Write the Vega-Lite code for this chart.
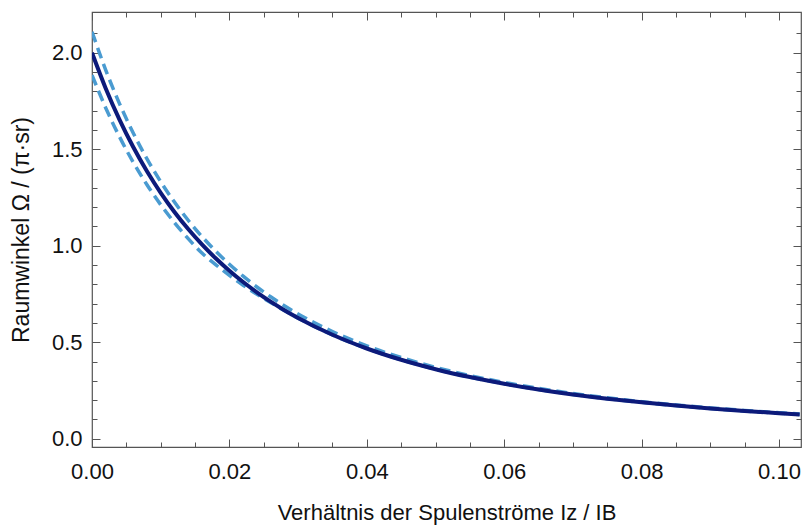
{
  "$schema": "https://vega.github.io/schema/vega-lite/v6.json",
  "width": 709,
  "height": 435,
  "autosize": {"type": "none"},
  "padding": {"left": 92, "top": 12, "right": 1, "bottom": 81},
  "background": "white",
  "config": {
    "view": {"stroke": "#555555", "strokeWidth": 1.2},
    "axis": {
      "domain": false,
      "grid": false,
      "tickColor": "#555555",
      "tickWidth": 1,
      "labelFont": "Liberation Sans",
      "labelFontSize": 22,
      "labelColor": "#111111",
      "titleFont": "Liberation Sans",
      "titleFontSize": 22,
      "titleFontWeight": "normal",
      "titleColor": "#111111",
      "labelFlush": false,
      "labelOverlap": false
    }
  },
  "datasets": {
    "kurven": [
      {"x": 0, "omega": 2.0, "kurve": "mittel"},
      {"x": 0.002, "omega": 1.8151, "kurve": "mittel"},
      {"x": 0.004, "omega": 1.6534, "kurve": "mittel"},
      {"x": 0.006, "omega": 1.5112, "kurve": "mittel"},
      {"x": 0.008, "omega": 1.3855, "kurve": "mittel"},
      {"x": 0.010, "omega": 1.2741, "kurve": "mittel"},
      {"x": 0.012, "omega": 1.1749, "kurve": "mittel"},
      {"x": 0.014, "omega": 1.0862, "kurve": "mittel"},
      {"x": 0.016, "omega": 1.0066, "kurve": "mittel"},
      {"x": 0.018, "omega": 0.9349, "kurve": "mittel"},
      {"x": 0.020, "omega": 0.8703, "kurve": "mittel"},
      {"x": 0.022, "omega": 0.8117, "kurve": "mittel"},
      {"x": 0.024, "omega": 0.7585, "kurve": "mittel"},
      {"x": 0.026, "omega": 0.7101, "kurve": "mittel"},
      {"x": 0.028, "omega": 0.6659, "kurve": "mittel"},
      {"x": 0.030, "omega": 0.6255, "kurve": "mittel"},
      {"x": 0.035, "omega": 0.5384, "kurve": "mittel"},
      {"x": 0.040, "omega": 0.4674, "kurve": "mittel"},
      {"x": 0.045, "omega": 0.4089, "kurve": "mittel"},
      {"x": 0.050, "omega": 0.3602, "kurve": "mittel"},
      {"x": 0.055, "omega": 0.3193, "kurve": "mittel"},
      {"x": 0.060, "omega": 0.2846, "kurve": "mittel"},
      {"x": 0.065, "omega": 0.2549, "kurve": "mittel"},
      {"x": 0.070, "omega": 0.2295, "kurve": "mittel"},
      {"x": 0.075, "omega": 0.2075, "kurve": "mittel"},
      {"x": 0.080, "omega": 0.1883, "kurve": "mittel"},
      {"x": 0.085, "omega": 0.1715, "kurve": "mittel"},
      {"x": 0.090, "omega": 0.1568, "kurve": "mittel"},
      {"x": 0.095, "omega": 0.1437, "kurve": "mittel"},
      {"x": 0.100, "omega": 0.1322, "kurve": "mittel"},
      {"x": 0.103, "omega": 0.1258, "kurve": "mittel"},
      {"x": 0, "omega": 2.1088, "kurve": "oben"},
      {"x": 0.002, "omega": 1.9100, "kurve": "oben"},
      {"x": 0.004, "omega": 1.7365, "kurve": "oben"},
      {"x": 0.006, "omega": 1.5844, "kurve": "oben"},
      {"x": 0.008, "omega": 1.4503, "kurve": "oben"},
      {"x": 0.010, "omega": 1.3316, "kurve": "oben"},
      {"x": 0.012, "omega": 1.2261, "kurve": "oben"},
      {"x": 0.014, "omega": 1.1319, "kurve": "oben"},
      {"x": 0.016, "omega": 1.0477, "kurve": "oben"},
      {"x": 0.018, "omega": 0.9720, "kurve": "oben"},
      {"x": 0.020, "omega": 0.9037, "kurve": "oben"},
      {"x": 0.022, "omega": 0.8420, "kurve": "oben"},
      {"x": 0.024, "omega": 0.7861, "kurve": "oben"},
      {"x": 0.026, "omega": 0.7352, "kurve": "oben"},
      {"x": 0.028, "omega": 0.6889, "kurve": "oben"},
      {"x": 0.030, "omega": 0.6465, "kurve": "oben"},
      {"x": 0.035, "omega": 0.5554, "kurve": "oben"},
      {"x": 0.040, "omega": 0.4813, "kurve": "oben"},
      {"x": 0.045, "omega": 0.4204, "kurve": "oben"},
      {"x": 0.050, "omega": 0.3698, "kurve": "oben"},
      {"x": 0.055, "omega": 0.3274, "kurve": "oben"},
      {"x": 0.060, "omega": 0.2915, "kurve": "oben"},
      {"x": 0.065, "omega": 0.2608, "kurve": "oben"},
      {"x": 0.070, "omega": 0.2346, "kurve": "oben"},
      {"x": 0.075, "omega": 0.2119, "kurve": "oben"},
      {"x": 0.080, "omega": 0.1921, "kurve": "oben"},
      {"x": 0.085, "omega": 0.1749, "kurve": "oben"},
      {"x": 0.090, "omega": 0.1597, "kurve": "oben"},
      {"x": 0.095, "omega": 0.1464, "kurve": "oben"},
      {"x": 0.100, "omega": 0.1345, "kurve": "oben"},
      {"x": 0.103, "omega": 0.1280, "kurve": "oben"},
      {"x": 0, "omega": 1.8843, "kurve": "unten"},
      {"x": 0.002, "omega": 1.7140, "kurve": "unten"},
      {"x": 0.004, "omega": 1.5645, "kurve": "unten"},
      {"x": 0.006, "omega": 1.4327, "kurve": "unten"},
      {"x": 0.008, "omega": 1.3160, "kurve": "unten"},
      {"x": 0.010, "omega": 1.2123, "kurve": "unten"},
      {"x": 0.012, "omega": 1.1196, "kurve": "unten"},
      {"x": 0.014, "omega": 1.0366, "kurve": "unten"},
      {"x": 0.016, "omega": 0.9620, "kurve": "unten"},
      {"x": 0.018, "omega": 0.9018, "kurve": "unten"},
      {"x": 0.020, "omega": 0.8462, "kurve": "unten"},
      {"x": 0.022, "omega": 0.7952, "kurve": "unten"},
      {"x": 0.024, "omega": 0.7485, "kurve": "unten"},
      {"x": 0.026, "omega": 0.7055, "kurve": "unten"},
      {"x": 0.028, "omega": 0.6639, "kurve": "unten"},
      {"x": 0.030, "omega": 0.6250, "kurve": "unten"},
      {"x": 0.035, "omega": 0.5380, "kurve": "unten"},
      {"x": 0.040, "omega": 0.4672, "kurve": "unten"},
      {"x": 0.045, "omega": 0.4088, "kurve": "unten"},
      {"x": 0.050, "omega": 0.3602, "kurve": "unten"},
      {"x": 0.055, "omega": 0.3193, "kurve": "unten"},
      {"x": 0.060, "omega": 0.2846, "kurve": "unten"},
      {"x": 0.065, "omega": 0.2549, "kurve": "unten"},
      {"x": 0.070, "omega": 0.2295, "kurve": "unten"},
      {"x": 0.075, "omega": 0.2075, "kurve": "unten"},
      {"x": 0.080, "omega": 0.1883, "kurve": "unten"},
      {"x": 0.085, "omega": 0.1715, "kurve": "unten"},
      {"x": 0.090, "omega": 0.1568, "kurve": "unten"},
      {"x": 0.095, "omega": 0.1437, "kurve": "unten"},
      {"x": 0.100, "omega": 0.1322, "kurve": "unten"},
      {"x": 0.103, "omega": 0.1258, "kurve": "unten"}
    ]
  },
  "data": {"name": "kurven"},
  "resolve": {"axis": {"x": "independent", "y": "independent"}},
  "layer": [
    {
      "transform": [{"filter": "datum.kurve !== 'mittel'"}],
      "mark": {"type": "line", "interpolate": "monotone", "clip": true, "color": "#4a9bd1", "strokeWidth": 3.5, "strokeDash": [11, 6]},
      "encoding": {
        "x": {"field": "x", "type": "quantitative",
              "scale": {"domain": [0, 0.1032], "nice": false, "zero": false},
              "axis": {"orient": "bottom", "values": [0, 0.02, 0.04, 0.06, 0.08, 0.1], "format": ".2f", "tickSize": -8, "labelPadding": 22,
                       "title": "Verhältnis der Spulenströme Iz / IB", "titlePadding": 20}},
        "y": {"field": "omega", "type": "quantitative",
              "scale": {"domain": [-0.043, 2.211], "nice": false, "zero": false},
              "axis": {"orient": "left", "values": [0, 0.5, 1, 1.5, 2], "format": ".1f", "tickSize": -8, "labelPadding": 18,
                       "title": "Raumwinkel  Ω / (π·sr)", "titleFontSize": 23, "titlePadding": 18}},
        "detail": {"field": "kurve"}
      }
    },
    {
      "transform": [{"filter": "datum.kurve === 'mittel'"}],
      "mark": {"type": "line", "interpolate": "monotone", "clip": true, "color": "#0c1a7a", "strokeWidth": 4},
      "encoding": {
        "x": {"field": "x", "type": "quantitative",
              "scale": {"domain": [0, 0.1032], "nice": false, "zero": false},
              "axis": {"orient": "bottom", "values": [0.005, 0.01, 0.015, 0.025, 0.03, 0.035, 0.045, 0.05, 0.055, 0.065, 0.07, 0.075, 0.085, 0.09, 0.095], "tickSize": -5, "labels": false, "title": null}},
        "y": {"field": "omega", "type": "quantitative",
              "scale": {"domain": [-0.043, 2.211], "nice": false, "zero": false},
              "axis": {"orient": "left", "values": [0.1, 0.2, 0.3, 0.4, 0.6, 0.7, 0.8, 0.9, 1.1, 1.2, 1.3, 1.4, 1.6, 1.7, 1.8, 1.9, 2.1], "tickSize": -5, "labels": false, "title": null}}
      }
    },
    {
      "transform": [{"filter": "datum.kurve === 'mittel'"}],
      "mark": {"type": "line", "opacity": 0},
      "encoding": {
        "x": {"field": "x", "type": "quantitative",
              "scale": {"domain": [0, 0.1032], "nice": false, "zero": false},
              "axis": {"orient": "top", "values": [0, 0.02, 0.04, 0.06, 0.08, 0.1], "tickSize": -8, "labels": false, "title": null}},
        "y": {"field": "omega", "type": "quantitative",
              "scale": {"domain": [-0.043, 2.211], "nice": false, "zero": false},
              "axis": {"orient": "right", "values": [0, 0.5, 1, 1.5, 2], "tickSize": -8, "labels": false, "title": null}}
      }
    },
    {
      "transform": [{"filter": "datum.kurve === 'mittel'"}],
      "mark": {"type": "line", "opacity": 0},
      "encoding": {
        "x": {"field": "x", "type": "quantitative",
              "scale": {"domain": [0, 0.1032], "nice": false, "zero": false},
              "axis": {"orient": "top", "values": [0.005, 0.01, 0.015, 0.025, 0.03, 0.035, 0.045, 0.05, 0.055, 0.065, 0.07, 0.075, 0.085, 0.09, 0.095], "tickSize": -5, "labels": false, "title": null}},
        "y": {"field": "omega", "type": "quantitative",
              "scale": {"domain": [-0.043, 2.211], "nice": false, "zero": false},
              "axis": {"orient": "right", "values": [0.1, 0.2, 0.3, 0.4, 0.6, 0.7, 0.8, 0.9, 1.1, 1.2, 1.3, 1.4, 1.6, 1.7, 1.8, 1.9, 2.1], "tickSize": -5, "labels": false, "title": null}}
      }
    }
  ]
}
